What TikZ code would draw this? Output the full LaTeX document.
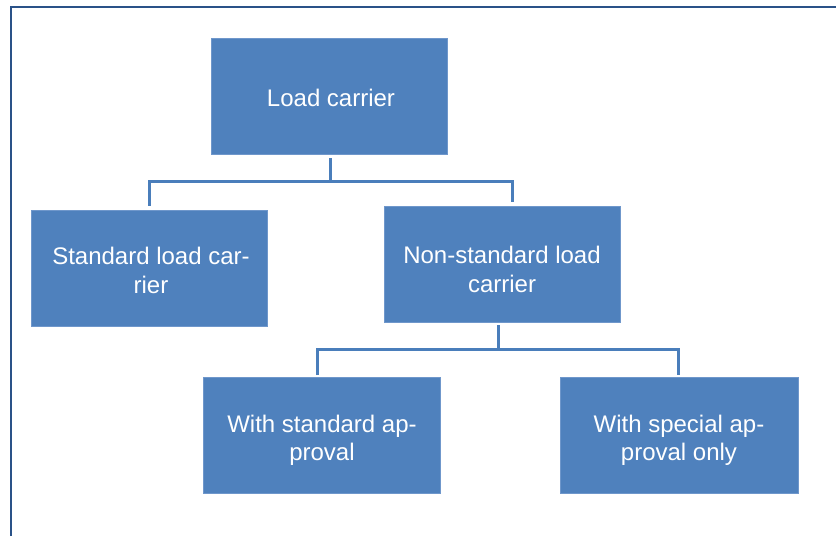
\documentclass[tikz,border=0pt]{standalone}
\usepackage{fontspec}
\setmainfont{Liberation Sans}
\usetikzlibrary{calc}
\definecolor{boxblue}{HTML}{4F81BD}
\definecolor{boxedge}{HTML}{6F97CB}
\definecolor{linkblue}{HTML}{4A7EBB}
\definecolor{frameblue}{HTML}{2A5288}
\begin{document}
\begin{tikzpicture}[x=1pt,y=-1pt,
  orgbox/.style={rectangle, fill=boxblue, draw=boxedge, line width=0.6pt,
    minimum width=236pt, minimum height=116pt, inner sep=0pt},
  boxtext/.style={text=white, align=center, inner sep=0pt,
    font=\fontsize{24}{28.5}\selectfont},
  link/.style={draw=linkblue, line width=3pt}]
  \useasboundingbox (0,0) rectangle (836,536);
  % frame edges (top and left)
  \draw[frameblue, line width=2pt] (11,536) -- (11,7) -- (836,7);

  % boxes, each with its caption set a little below the centre
  \node[orgbox, label={[boxtext, xshift=2pt, yshift=-1.5pt]center:Load carrier}] (root) at (329,96) {};
  \node[orgbox, label={[boxtext, xshift=2pt, yshift=-2.5pt]center:{Standard load car-\\rier}}] (std) at (149,268) {};
  \node[orgbox, label={[boxtext, yshift=-5.5pt]center:{Non-standard load\\carrier}}] (non) at (502,264) {};
  \node[orgbox, minimum width=237pt, label={[boxtext, xshift=0.5pt, yshift=-5pt]center:{With standard ap-\\proval}}] (wsa) at (321.5,435.5) {};
  \node[orgbox, minimum width=238pt, label={[boxtext, yshift=-5pt]center:{With special ap-\\proval only}}] (wsp) at (679,435.5) {};

  % bus points
  \coordinate (j1) at (330,181);
  \coordinate (j2) at (498,349);

  % connectors
  \draw[link] ([xshift=1pt,yshift=-4pt]root.south) -- (j1);
  \draw[link] ([yshift=4pt]std.north) |- (j1) -| ([xshift=10pt,yshift=4pt]non.north);
  \draw[link] ([xshift=-4pt,yshift=-3pt]non.south) -- (j2);
  \draw[link] ([xshift=-4.5pt,yshift=2pt]wsa.north) |- (j2) -| ([xshift=-1pt,yshift=2pt]wsp.north);
\end{tikzpicture}
\end{document}
